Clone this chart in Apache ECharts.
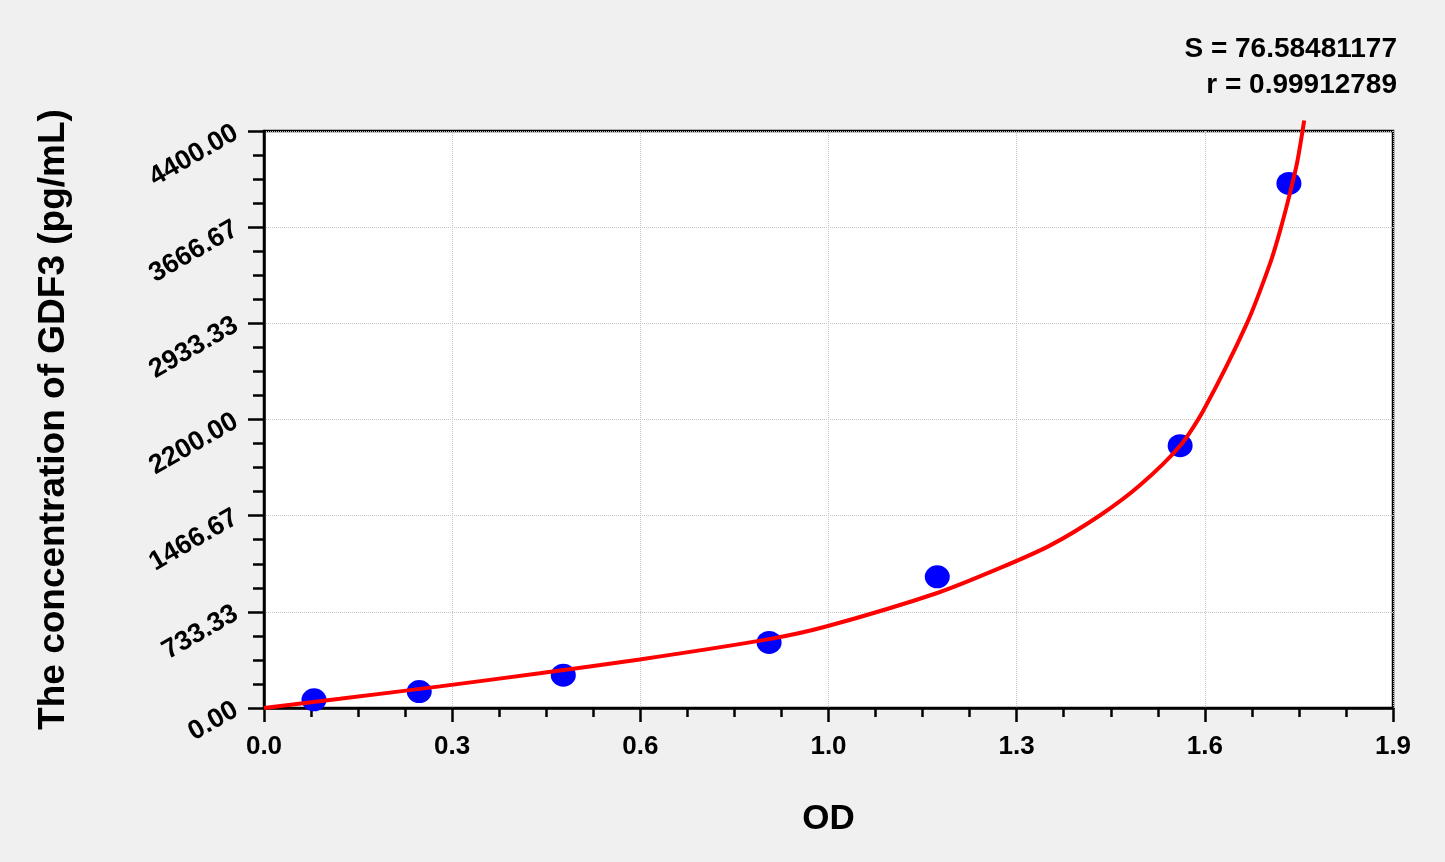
<!DOCTYPE html>
<html>
<head>
<meta charset="utf-8">
<title>GDF3 standard curve</title>
<script src="https://cdn.jsdelivr.net/npm/echarts@6/dist/echarts.min.js"></script>
<style>
  html, body { margin: 0; padding: 0; background: #f0f0f0; }
  #chart { width: 1445px; height: 862px; }
</style>
</head>
<body>
<div id="chart"></div>
<script>
// standards (OD vs pg/mL)
const stdOD = [0.085, 0.264, 0.509, 0.859, 1.145, 1.558, 1.743];
const stdConc = [62.5, 125, 250, 500, 1000, 2000, 4000];

// fitted curve
const curveOD = [0, 0.129, 0.299, 0.469, 0.639, 0.859, 0.959, 1.145, 1.252, 1.337, 1.422, 1.49, 1.558, 1.598, 1.672, 1.711, 1.728, 1.745, 1.757, 1.769];
const curveConc = [0, 70, 165, 265, 370, 525, 625, 877, 1068, 1240, 1470, 1700, 2000, 2273, 2937, 3390, 3640, 3930, 4160, 4480];

const fitLines = ['S = 76.58481177', 'r = 0.99912789'];

const chartDom = document.getElementById('chart');
const myChart = echarts.init(chartDom);

const font = '"Liberation Sans", Arial, sans-serif';

const option = {
  backgroundColor: '#f0f0f0',
  animation: false,
  title: fitLines.map((t, i) => ({
    text: t,
    right: 48,
    top: 35 + i * 36,
    padding: 0,
    textStyle: {
      fontFamily: font,
      fontWeight: 'bold',
      fontSize: 28,
      color: '#000'
    }
  })),
  grid: {
    left: 264,
    right: 52,
    top: 131,
    bottom: 154,
    show: true,
    backgroundColor: '#fff',
    borderColor: '#000',
    borderWidth: 2.5
  },
  xAxis: {
    type: 'value',
    min: 0,
    max: 1.92,
    interval: 0.32,
    name: 'OD',
    nameLocation: 'middle',
    nameGap: 94,
    nameTextStyle: { fontFamily: font, fontWeight: 'bold', fontSize: 35, color: '#000' },
    axisLine: { lineStyle: { color: '#000', width: 2.5 } },
    axisTick: { show: true, inside: false, length: 14, lineStyle: { color: '#000', width: 2.5 } },
    minorTick: { show: true, splitNumber: 4, length: 9, lineStyle: { color: '#000', width: 2.5 } },
    axisLabel: {
      margin: 26,
      fontFamily: font,
      fontWeight: 'bold',
      fontSize: 26,
      color: '#000',
      formatter: v => v.toFixed(1)
    },
    splitLine: { show: true, lineStyle: { color: '#c4c4c4', type: 'dotted', width: 1 } }
  },
  yAxis: {
    type: 'value',
    min: 0,
    max: 4400,
    interval: 4400 / 6,
    name: 'The concentration of GDF3 (pg/mL)',
    nameLocation: 'middle',
    nameGap: 192,
    nameTextStyle: { fontFamily: font, fontWeight: 'bold', fontSize: 37, color: '#000' },
    axisLine: { show: true, lineStyle: { color: '#000', width: 2.5 } },
    axisTick: { show: true, length: 16, lineStyle: { color: '#000', width: 2.5 } },
    minorTick: { show: true, splitNumber: 4, length: 11, lineStyle: { color: '#000', width: 2.5 } },
    axisLabel: {
      margin: 28,
      rotate: 30,
      fontFamily: font,
      fontWeight: 'bold',
      fontSize: 27,
      color: '#000',
      formatter: v => v.toFixed(2)
    },
    splitLine: { show: true, lineStyle: { color: '#c4c4c4', type: 'dotted', width: 1 } }
  },
  series: [
    {
      type: 'line',
      data: curveOD.map((x, i) => [x, curveConc[i]]),
      showSymbol: false,
      smooth: 0.25,
      clip: false,
      lineStyle: { color: '#ff0000', width: 4 },
      z: 3
    },
    {
      type: 'scatter',
      data: stdOD.map((x, i) => [x, stdConc[i]]),
      symbol: 'circle',
      symbolSize: [25, 23],
      itemStyle: { color: '#0000ff', opacity: 1 },
      z: 2
    }
  ]
};

option && myChart.setOption(option);
</script>
</body>
</html>
